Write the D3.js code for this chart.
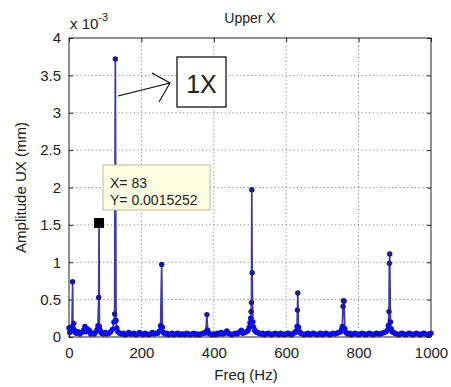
<!DOCTYPE html>
<html><head><meta charset="utf-8">
<script src="https://cdn.jsdelivr.net/npm/d3@7"></script>
<style>body{margin:0;background:#fff}svg{display:block}text{font-family:"Liberation Sans",Arial,sans-serif;fill:#222}</style>
</head><body>
<svg id="c" width="451" height="387"></svg>
<script>
const freqHz = [0,2,4,6,8,10,11,13,15,18, 20,25,30,35,40,44,47,50,53,56, 60,65,70,75,78,80,82,83,84,86,
 90,95,100,105,110,115,120,124,126,128, 130,132,135,140,145,150,155,160,165,170, 175,180,185,190,195,200,205,210,215,220,
 225,230,235,240,245,250,253,256,258,261, 265,270,275,280,285,290,295,300,305,310, 315,320,325,330,335,340,345,350,355,360,
 365,370,375,378,381,383,386,390,395,400, 405,410,415,420,425,430,433,436,440,445, 450,455,460,465,470,473,476,480,485,490,
 495,498,500,502,503,504,505,506,508,510, 513,516,520,525,530,535,540,545,550,555, 560,565,570,575,580,585,590,595,600,605,
 610,615,620,625,628,630,631,632,634,637, 640,645,650,655,660,665,670,675,680,685, 690,695,700,705,710,715,720,725,730,735,
 740,745,750,753,755,757,758,760,762,765, 770,775,780,785,790,795,800,805,810,815, 820,825,830,835,840,845,850,855,860,865,
 870,875,880,882,884,885,886,888,890,893, 896,900,905,910,915,920,925,930,935,940, 945,950,955,960,965,970,975,980,985,990,
 995,1000];
const amplitudeE3 = [0.12,0.06,0.13,0.08,0.11,0.74,0.12,0.18,0.09,0.06, 0.05,0.07,0.04,0.06,0.09,0.14,0.07,0.11,0.08,0.09,
 0.04,0.05,0.04,0.07,0.10,0.15,0.53,1.5252,0.14,0.09, 0.05,0.04,0.06,0.04,0.05,0.07,0.10,0.20,0.31,3.72,
 0.22,0.12,0.07,0.05,0.04,0.05,0.03,0.04,0.06,0.04, 0.04,0.05,0.03,0.04,0.06,0.04,0.03,0.05,0.04,0.03,
 0.04,0.06,0.04,0.05,0.05,0.08,0.15,0.97,0.13,0.06, 0.04,0.05,0.03,0.04,0.05,0.03,0.04,0.05,0.03,0.04,
 0.04,0.03,0.05,0.04,0.03,0.04,0.05,0.03,0.04,0.03, 0.04,0.05,0.05,0.07,0.30,0.09,0.05,0.04,0.03,0.04,
 0.03,0.05,0.04,0.06,0.04,0.05,0.06,0.08,0.05,0.04, 0.03,0.04,0.05,0.04,0.06,0.07,0.09,0.05,0.06,0.07,
 0.09,0.13,0.19,0.25,0.34,0.46,1.97,0.86,0.20,0.13, 0.09,0.07,0.06,0.05,0.04,0.05,0.03,0.04,0.05,0.04,
 0.03,0.04,0.05,0.04,0.03,0.05,0.04,0.03,0.04,0.05, 0.04,0.03,0.05,0.06,0.08,0.14,0.36,0.59,0.13,0.07,
 0.05,0.04,0.03,0.04,0.05,0.03,0.04,0.05,0.04,0.03, 0.04,0.05,0.03,0.04,0.05,0.04,0.03,0.04,0.05,0.04,
 0.05,0.06,0.07,0.10,0.14,0.41,0.485,0.48,0.11,0.06, 0.04,0.05,0.03,0.04,0.05,0.04,0.03,0.04,0.05,0.04,
 0.03,0.04,0.05,0.04,0.03,0.04,0.05,0.04,0.04,0.05, 0.06,0.07,0.09,0.15,0.34,0.985,1.11,0.20,0.11,0.07,
 0.06,0.05,0.04,0.03,0.04,0.05,0.04,0.03,0.04,0.05, 0.04,0.03,0.04,0.05,0.04,0.03,0.04,0.05,0.04,0.03,
 0.04,0.05];
const xTicks = [0,200,400,600,800,1000];
const yTicks = [0,0.5,1,1.5,2,2.5,3,3.5,4];
const tipPoint = {x:83, y:1.5252};
const tipLines = ["X= 83","Y= 0.0015252"];
const titleText = "Upper X", xLabel = "Freq (Hz)", yLabel = "Amplitude UX (mm)";
const noteText = "1X";

const svg = d3.select("#c");
const L=69,R=431,T=38,B=337;
const x = d3.scaleLinear().domain([0,1000]).range([L,R]);
const y = d3.scaleLinear().domain([0,4]).range([B,T]);

const g = svg.append("g");
g.selectAll(".gx").data(xTicks.slice(1,-1)).join("line")
 .attr("x1",d=>x(d)).attr("x2",d=>x(d)).attr("y1",T).attr("y2",B)
 .attr("stroke","#8a8a8a").attr("stroke-dasharray","1.2,2.6");
g.selectAll(".gy").data(yTicks.slice(1,-1)).join("line")
 .attr("y1",d=>y(d)).attr("y2",d=>y(d)).attr("x1",L).attr("x2",R)
 .attr("stroke","#8a8a8a").attr("stroke-dasharray","1.2,2.6");

const ax = d3.axisBottom(x).tickValues(xTicks).tickSize(-4).tickPadding(10).tickFormat(d3.format("d"));
const ay = d3.axisLeft(y).tickValues(yTicks).tickSize(-4).tickPadding(8).tickFormat(d=>d);
const axT = d3.axisTop(x).tickValues(xTicks).tickSize(-4).tickFormat("");
const ayR = d3.axisRight(y).tickValues(yTicks).tickSize(-4).tickFormat("");
function style(sel){sel.select(".domain").remove();sel.selectAll("line").attr("stroke","#222");
 sel.selectAll("text").style("font-size","15px").attr("fill","#222");}
svg.append("g").attr("transform",`translate(0,${B})`).call(ax).call(style);
svg.append("g").attr("transform",`translate(${L},0)`).call(ay).call(style);
svg.append("g").attr("transform",`translate(0,${T})`).call(axT).call(style);
svg.append("g").attr("transform",`translate(${R},0)`).call(ayR).call(style);

const pts = freqHz.map((f,i)=>[f,amplitudeE3[i]]);
svg.append("clipPath").attr("id","cp").append("rect").attr("x",L-3).attr("y",T).attr("width",R-L+6).attr("height",B-T+3);
const dg = svg.append("g").attr("clip-path","url(#cp)");
dg.append("path").datum(pts).attr("d",d3.line().x(d=>x(d[0])).y(d=>y(d[1])))
 .attr("fill","none").attr("stroke","#3a3aae").attr("stroke-width",1.7);
dg.selectAll("circle").data(pts).join("circle").attr("cx",d=>x(d[0])).attr("cy",d=>y(d[1])).attr("r",2.7)
 .attr("fill",d=>d[1]>0.25?"#1a1a90":"#0a0ae6");

svg.append("rect").attr("x",L).attr("y",T).attr("width",R-L).attr("height",B-T)
 .attr("fill","none").attr("stroke","#222").attr("stroke-width",1);

svg.append("text").attr("x",(L+R)/2).attr("y",23).attr("text-anchor","middle").style("font-size","14px").text(titleText);
svg.append("text").attr("x",(L+R)/2 - 4).attr("y",380).attr("text-anchor","middle").style("font-size","15px").text(xLabel);
svg.append("text").attr("transform",`translate(26,${(T+B)/2}) rotate(-90)`).attr("text-anchor","middle").style("font-size","15px").text(yLabel);
const ex = svg.append("text").attr("x",70).attr("y",29).style("font-size","15px");
ex.append("tspan").text("x 10");
ex.append("tspan").attr("dy",-8).style("font-size","11px").text("-3");

svg.append("rect").attr("x",103).attr("y",165).attr("width",107).attr("height",45)
 .attr("fill","#ffffe4").attr("stroke","#b8b8a0").attr("stroke-width",1);
svg.selectAll(".tip").data(tipLines).join("text").attr("x",110).attr("y",(d,i)=>188+i*17)
 .style("font-size","14px").attr("fill","#222").text(d=>d);
svg.append("rect").attr("x",x(tipPoint.x)-5).attr("y",y(tipPoint.y)-5).attr("width",10).attr("height",10).attr("fill","#000");

svg.append("rect").attr("x",177).attr("y",57).attr("width",49).attr("height",50).attr("fill","#fff").attr("stroke","#000").attr("stroke-width",1.2);
svg.append("text").attr("x",201.5).attr("y",93).attr("text-anchor","middle").style("font-size","25px").attr("fill","#000").text(noteText);
svg.append("path").attr("d","M118,96 L170,83 M152,73 L170,83 L159,102").attr("fill","none").attr("stroke","#000").attr("stroke-width",1.1);
</script>
</body></html>
